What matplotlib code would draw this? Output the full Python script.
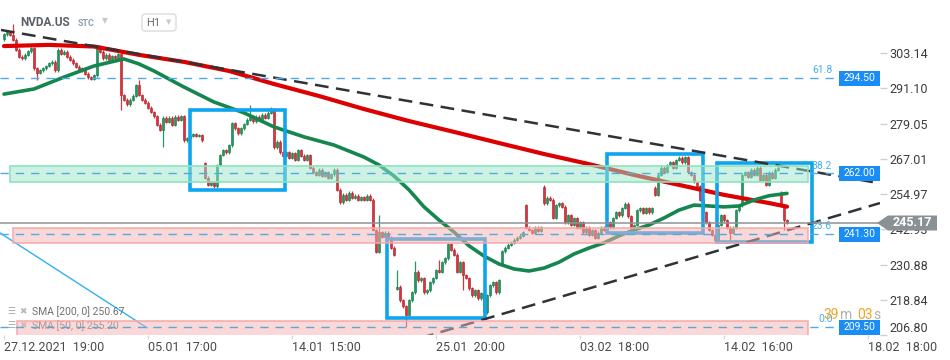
import matplotlib.pyplot as plt
import matplotlib.transforms as mtransforms
from matplotlib.patches import Rectangle, Polygon, FancyBboxPatch

plt.rcParams['font.family'] = ['Roboto', 'DejaVu Sans']

# hourly closes, NVDA.US, 27.12.2021 -> 18.02.2022
closes = [
    309.6, 310.3, 309.4, 307.6, 304.2, 301.8, 301.4, 302.5, 303.8, 304.8,
    298.0, 296.3, 297.3, 298.0, 298.7, 299.7, 300.1, 297.3, 304.2, 302.8,
    303.5, 301.8, 300.8, 299.7, 298.4, 297.3, 298.0, 296.0, 294.9, 294.3,
    295.6, 305.2, 303.5, 301.4, 302.5, 300.8, 302.1, 301.4, 302.8, 288.8,
    287.1, 285.7, 287.1, 288.5, 292.2, 288.8, 287.1, 286.1, 284.4, 283.0,
    281.6, 278.6, 276.9, 281.0, 279.6, 281.0, 278.6, 281.3, 280.3, 281.6,
    273.4, 274.1, 274.8, 275.4, 274.8, 275.1, 273.4, 260.5, 258.1, 259.1,
    257.7, 264.9, 268.3, 270.0, 269.3, 271.7, 279.2, 277.5, 275.8, 277.5,
    278.9, 280.3, 281.3, 279.9, 281.3, 280.3, 282.0, 281.0, 282.7, 283.7,
    271.0, 272.8, 269.3, 268.0, 269.3, 267.3, 269.0, 266.6, 270.0, 268.0,
    266.6, 268.3, 263.9, 262.5, 261.5, 263.2, 261.2, 262.5, 260.5, 261.8,
    263.2, 256.4, 252.2, 254.7, 253.0, 255.4, 253.7, 254.4, 253.0, 253.9,
    253.0, 254.4, 253.0, 242.7, 235.2, 242.0, 240.3, 241.7, 240.0, 236.6,
    234.2, 223.4, 218.7, 216.7, 213.6, 218.7, 221.5, 228.4, 225.6, 226.3,
    221.5, 222.2, 224.9, 226.3, 229.0, 228.4, 231.7, 233.1, 237.9, 235.9,
    234.2, 228.4, 231.7, 227.3, 226.3, 222.8, 220.4, 222.2, 219.4, 221.1,
    214.6, 220.4, 223.9, 224.9, 221.5, 225.6, 235.5, 236.6, 237.6, 238.3,
    239.3, 240.0, 240.7, 242.0, 243.4, 242.7, 241.7, 243.4, 242.4, 243.7,
    251.9, 253.7, 253.0, 246.8, 251.2, 251.9, 250.6, 245.4, 247.8, 244.4,
    246.8, 243.4, 245.4, 242.0, 243.4, 241.0, 242.7, 240.0, 241.7, 243.4,
    242.7, 245.4, 243.7, 246.8, 248.8, 247.8, 250.2, 251.6, 247.4, 243.4,
    244.4, 249.5, 250.2, 248.5, 250.2, 248.8, 250.2, 254.7, 261.5, 263.9,
    262.5, 264.9, 265.9, 263.9, 266.6, 267.3, 265.9, 267.6, 262.5, 261.5,
    259.1, 257.7, 253.0, 248.8, 245.4, 242.7, 241.0, 239.3, 244.4, 247.8,
    246.1, 243.4, 241.7, 243.4, 249.5, 251.2, 261.5, 262.5, 260.8, 263.2,
    261.5, 263.9, 259.8, 261.5, 258.1, 262.2, 260.5, 263.2, 263.9, 251.2,
    246.1, 245.17,
]
# opens that differ from the previous close (session gaps)
gap_opens = {0: 307.8, 67: 265.5, 131: 222.6, 166: 231.0, 174: 251.2,
             180: 257.4, 217: 257.1, 259: 255.4}
spike_highs = {3: 312.9, 45: 293.9, 82: 285.4, 89: 284.8, 125: 247.8,
               131: 229.0, 137: 232.0, 145: 232.4, 180: 258.1, 258: 265.5}
spike_lows = {11: 293.9, 39: 283.7, 53: 271.0, 134: 209.5, 153: 222.2,
              237: 238.3, 242: 239.3, 260: 242.7}

sma200_idx = [0, 15, 30, 45, 60, 75, 90, 105, 120, 135, 150, 165, 180, 195,
              210, 225, 240, 255, 261]
sma200_val = [305.5, 305.9, 305.35, 302.5, 300.1, 297.0, 292.55, 288.45,
              284.0, 279.9, 276.2, 272.4, 268.65, 265.2, 261.5, 258.1, 254.7,
              251.9, 250.67]
sma50_idx = [0, 10, 20, 30, 40, 45, 50, 60, 70, 80, 90, 100, 110, 120, 125,
             130, 135, 140, 145, 150, 155, 160, 165, 170, 175, 180, 185, 190,
             195, 200, 205, 210, 215, 220, 225, 230, 235, 240, 245, 250, 255,
             261]
sma50_val = [289.1, 290.85, 294.9, 298.7, 301.1, 299.4, 297.0, 291.5, 286.4,
             282.7, 277.9, 274.5, 271.7, 267.6, 264.9, 261.15, 256.4, 250.6,
             246.1, 242.0, 237.3, 233.8, 231.1, 229.4, 228.7, 229.7, 231.7,
             234.5, 236.55, 238.3, 240.7, 242.7, 244.4, 246.8, 249.5, 251.2,
             250.9, 250.6, 250.9, 252.95, 254.4, 255.2]

upper_trend = ([-1.0, 291.0], [311.0, 258.8])
lower_trend = ([138.7, 292.0], [205.8, 251.9])
fib_diag = ([-1.33, 47.7], [241.7, 209.3])

# zones: x0, x1, low, high
green_zone = (2.0, 268.0, 259.1, 264.6)
pink_zones = [(3.0, 268.0, 238.2, 243.4), (4.2, 268.0, 205.0, 211.6)]
boxes = [(62.0, 93.7, 256.4, 283.7), (127.7, 160.3, 212.7, 239.6),
         (201.0, 233.0, 241.7, 268.6), (237.7, 269.3, 238.6, 265.6)]

fib_levels = [294.50, 262.00, 241.30, 209.50]
fib_names = ['61.8', '38.2', '23.6', '0.0']
last_price = 245.17

ytick_vals = [206.80, 218.84, 230.88, 242.93, 254.97, 267.01, 279.05, 291.10, 303.14]
xtick_pos = [0, 48, 96, 144, 192, 240, 288]
xtick_labels = ['27.12.2021  19:00', '05.01  17:00', '14.01  15:00',
                '25.01  20:00', '03.02  18:00', '14.02  16:00', '18.02  18:00']

fig = plt.figure(figsize=(9.5, 3.6), dpi=100)
ax = fig.add_axes([0, 1 - 335.2 / 360, 880 / 950, 335.2 / 360])
ax.set_xlim(-1.33, 292)
ax.set_ylim(206.78, 321.23)
# pixel coords, origin top-left
pxtr = mtransforms.Affine2D().scale(1 / 100, -1 / 100).translate(0, 3.6) + fig.dpi_scale_trans

# candles
GREEN, GREEN_E = '#23985f', '#137446'
RED, RED_E = '#e0303a', '#a51c27'
xs, opens, highs, lows, cols, ecols = [], [], [], [], [], []
for i, c in enumerate(closes):
    o = gap_opens.get(i, closes[i - 1] if i else c)
    hi = spike_highs.get(i, max(o, c) + 0.5)
    lo = spike_lows.get(i, min(o, c) - 0.5)
    xs.append(i)
    opens.append(o)
    highs.append(hi)
    lows.append(lo)
    up = c >= o
    cols.append(GREEN if up else RED)
    ecols.append(GREEN_E if up else RED_E)

ax.vlines(xs, lows, highs, colors=cols, lw=0.9, zorder=2)
heights = [max(abs(c - o), 0.3) for o, c in zip(opens, closes)]
bottoms = [min(o, c) for o, c in zip(opens, closes)]
ax.bar(xs, heights, bottom=bottoms, width=0.72, color=cols,
       edgecolor=ecols, linewidth=0.4, zorder=2.1)

# moving averages
ax.plot(sma200_idx, sma200_val, color='#dd0000', lw=3.0, zorder=3,
        solid_capstyle='round', solid_joinstyle='round')
ax.plot(sma50_idx, sma50_val, color='#15864f', lw=2.6, zorder=3,
        solid_capstyle='round', solid_joinstyle='round')

# analysis boxes
for x0, x1, y0, y1 in boxes:
    ax.add_patch(Rectangle((x0, y0), x1 - x0, y1 - y0, fill=False,
                           ec='#0ea5ee', lw=2.6, zorder=3.5))

# trend lines
for tl in (upper_trend, lower_trend):
    ax.plot(tl[0], tl[1], color='#2e3338', lw=1.8, ls=(0, (5.5, 3)), zorder=4)
ax.plot(fib_diag[0], fib_diag[1], color='#2fb0f5', lw=1.0, zorder=4)

# legend (under the zones)
leg_rows = [('SMA [200, 0] 250.67', 312), ('SMA [50, 0] 255.20', 326)]
for txt, yy in leg_rows:
    ax.text(7, yy, '\u2630', transform=pxtr, fontsize=6.5, color='#a8a8a8',
            va='center', ha='left', zorder=4.5)
    ax.text(19, yy, '\u2716', transform=pxtr, fontsize=6.5, color='#b8b8b8',
            va='center', ha='left', zorder=4.5)
    ax.text(32, yy, txt, transform=pxtr, fontsize=7.5, color='#707070',
            va='center', ha='left', zorder=4.5)

# zones
gx0, gx1, glo, ghi = green_zone
ax.add_patch(Rectangle((gx0, glo), gx1 - gx0, ghi - glo, fc=(0.61, 0.90, 0.79, 0.5),
                       ec=(0.55, 0.89, 0.75, 0.9), lw=1.3, zorder=5))
for x0, x1, lo, hi in pink_zones:
    ax.add_patch(Rectangle((x0, lo), x1 - x0, hi - lo, fc=(0.97, 0.70, 0.70, 0.5),
                           ec=(0.96, 0.66, 0.66, 0.9), lw=1.2, zorder=5))

# fibonacci levels
for lvl, name in zip(fib_levels, fib_names):
    ax.hlines(lvl, -1.33, 278, colors='#50aae6', lw=1.0, linestyles=(0, (6, 5)), zorder=6)
    ax.text(269.3 if name != '0.0' else 271.3, lvl + 1.0, name, fontsize=7.5,
            color='#4aaeea', va='bottom', ha='left', zorder=6)
    ax.add_patch(Rectangle((278.3, lvl - 2.55), 13.7, 5.1, fc='#1a8cf5', ec='none',
                           zorder=7, clip_on=False))
    ax.text(285.2, lvl, f'{lvl:.2f}', fontsize=7.5, color='white', ha='center',
            va='center', zorder=7.5)

ax.axhline(last_price, color='#8d9296', lw=1.1, zorder=6)

# axes styling
for s in ax.spines.values():
    s.set_visible(False)
ax.yaxis.tick_right()
ax.set_yticks(ytick_vals, [f'{v:.2f}' for v in ytick_vals])
ax.yaxis.get_ticklabels()[0].set_va('bottom')
ax.tick_params(axis='y', length=5, width=1, color='#d0d0d0', labelsize=9,
               labelcolor='#3c3c3c', pad=2)
ax.set_xticks(xtick_pos, xtick_labels)
for lab in ax.get_xticklabels():
    lab.set_ha('left')
ax.tick_params(axis='x', length=3, width=1, color='#d8d8d8', labelsize=9,
               labelcolor='#4a4a4a', pad=1.5)

# current price tag
tag = Polygon([(877, 223), (888, 215.5), (937, 215.5), (937, 230.5), (888, 230.5)],
              closed=True, fc='#8a9194', ec='none', transform=pxtr, clip_on=False, zorder=9)
ax.add_patch(tag)
ax.text(912, 223, f'{last_price:.2f}', transform=pxtr, fontsize=9, fontweight='bold',
        color='white', ha='center', va='center', zorder=9.5, clip_on=False)

# countdown
for txt, xx, col in [('39', 823, '#f5a31f'), ('m', 840, '#b0b0b0'),
                     ('03', 857, '#f5a31f'), ('s', 873, '#b0b0b0')]:
    ax.text(xx, 315, txt, transform=pxtr, fontsize=10, color=col, ha='left',
            va='center', zorder=9, clip_on=False)

# header
ax.text(20.7, 23, 'NVDA.US', transform=pxtr, fontsize=8.5, fontweight='bold',
        color='#5a6068', ha='left', va='center', zorder=10)
ax.text(78, 24, 'STC', transform=pxtr, fontsize=6.5, fontweight='bold',
        color='#8fa0ae', ha='left', va='center', zorder=10)
ax.text(104.5, 21, '\u25bc', transform=pxtr, fontsize=5.5, color='#c8c8c8',
        ha='center', va='center', zorder=10)
ax.add_patch(FancyBboxPatch((142, 14), 34, 17, boxstyle='round,pad=0,rounding_size=3',
                            fc='white', ec='#dcdcdc', lw=1, transform=pxtr, zorder=10))
ax.text(146, 23, 'H1', transform=pxtr, fontsize=8, color='#666a70', ha='left',
        va='center', zorder=10.5)
ax.text(169, 23, '\u25bc', transform=pxtr, fontsize=5, color='#c8c8c8',
        ha='center', va='center', zorder=10.5)

fig.savefig('out.png', dpi=100)
